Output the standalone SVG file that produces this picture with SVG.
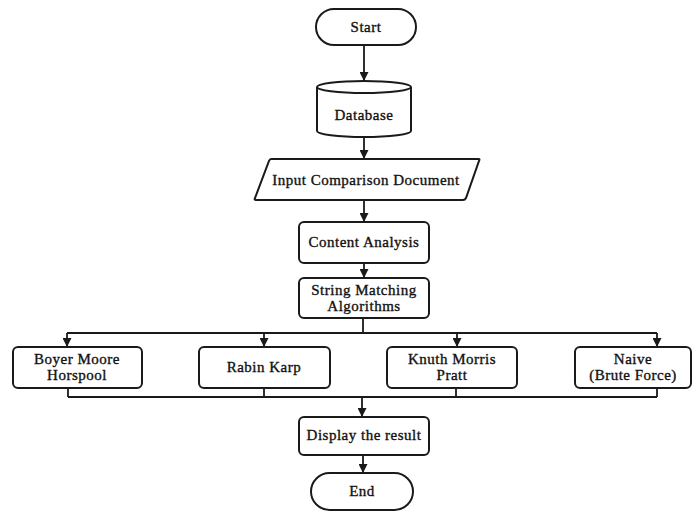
<svg xmlns="http://www.w3.org/2000/svg" width="696" height="513" viewBox="0 0 696 513">
  <style>
    .shape { fill: #ffffff; stroke: #1a1a1a; stroke-width: 2; }
    .wire { fill: none; stroke: #1a1a1a; stroke-width: 1.8; }
    .label { font-family: "Liberation Serif", "Times New Roman", serif; font-size: 15px; letter-spacing: 0.5px; fill: #111; stroke: #111; stroke-width: 0.35; text-anchor: middle; dominant-baseline: central; }
  </style>
  <defs>
    <marker id="arrow" viewBox="0 0 10 10" refX="10" refY="5" markerWidth="5.5" markerHeight="5" orient="auto" markerUnits="strokeWidth">
      <path d="M0,0 L10,5 L0,10 z" fill="#1a1a1a"/>
    </marker>
  </defs>
  <rect width="696" height="513" fill="#ffffff"/>

  <g id="connectors">
    <line class="wire" x1="364" y1="45" x2="364" y2="81" marker-end="url(#arrow)"/>
    <line class="wire" x1="364" y1="137" x2="364" y2="159" marker-end="url(#arrow)"/>
    <line class="wire" x1="364" y1="200" x2="364" y2="222" marker-end="url(#arrow)"/>
    <line class="wire" x1="364" y1="263" x2="364" y2="278" marker-end="url(#arrow)"/>
    <line class="wire" x1="363" y1="318" x2="363" y2="333"/>
    <line class="wire" x1="67" y1="333" x2="657" y2="333"/>
    <line class="wire" x1="67" y1="333" x2="67" y2="347" marker-end="url(#arrow)"/>
    <line class="wire" x1="264" y1="333" x2="264" y2="347" marker-end="url(#arrow)"/>
    <line class="wire" x1="457" y1="333" x2="457" y2="347" marker-end="url(#arrow)"/>
    <line class="wire" x1="657" y1="333" x2="657" y2="347" marker-end="url(#arrow)"/>
    <line class="wire" x1="68" y1="388" x2="68" y2="397"/>
    <line class="wire" x1="264" y1="388" x2="264" y2="397"/>
    <line class="wire" x1="456" y1="388" x2="456" y2="397"/>
    <line class="wire" x1="657" y1="388" x2="657" y2="397"/>
    <line class="wire" x1="68" y1="397" x2="657" y2="397"/>
    <line class="wire" x1="362" y1="397" x2="362" y2="417" marker-end="url(#arrow)"/>
    <line class="wire" x1="363" y1="455" x2="363" y2="473" marker-end="url(#arrow)"/>
  </g>

  <g id="start">
    <rect class="shape" x="316" y="9" width="100" height="36" rx="18"/>
    <text class="label" x="366" y="27">Start</text>
  </g>

  <g id="database">
    <path class="shape" d="M317,87 L317,131 A47,6 0 0 0 411,131 L411,87"/>
    <ellipse class="shape" cx="364" cy="87" rx="47" ry="6"/>
    <text class="label" x="364" y="115">Database</text>
  </g>

  <g id="input">
    <path class="shape" d="M271,159 L479,159 Q480,159 479,161 L466,198 Q465,200 463,200 L256,200 Q254,200 255,198 L269,161 Q270,159 271,159 Z"/>
    <text class="label" x="366" y="180">Input Comparison Document</text>
  </g>

  <g id="content-analysis">
    <rect class="shape" x="299" y="222" width="130" height="41" rx="5"/>
    <text class="label" x="364" y="242">Content Analysis</text>
  </g>

  <g id="string-matching">
    <rect class="shape" x="299" y="278" width="130" height="40" rx="5"/>
    <text class="label" x="364" y="289.5">String Matching</text>
    <text class="label" x="364" y="305.5">Algorithms</text>
  </g>

  <g id="boyer-moore">
    <rect class="shape" x="13" y="347" width="129" height="41" rx="5"/>
    <text class="label" x="77" y="359">Boyer Moore</text>
    <text class="label" x="77" y="375">Horspool</text>
  </g>

  <g id="rabin-karp">
    <rect class="shape" x="199" y="347" width="131" height="41" rx="5"/>
    <text class="label" x="264" y="367">Rabin Karp</text>
  </g>

  <g id="kmp">
    <rect class="shape" x="387" y="347" width="130" height="41" rx="5"/>
    <text class="label" x="452" y="359">Knuth Morris</text>
    <text class="label" x="452" y="375">Pratt</text>
  </g>

  <g id="naive">
    <rect class="shape" x="575" y="347" width="116" height="41" rx="5"/>
    <text class="label" x="633" y="359">Naive</text>
    <text class="label" x="633" y="375">(Brute Force)</text>
  </g>

  <g id="display">
    <rect class="shape" x="299" y="417" width="130" height="38" rx="5"/>
    <text class="label" x="364" y="435">Display the result</text>
  </g>

  <g id="end">
    <rect class="shape" x="311" y="473" width="102" height="37" rx="18.5"/>
    <text class="label" x="362" y="491">End</text>
  </g>
</svg>
